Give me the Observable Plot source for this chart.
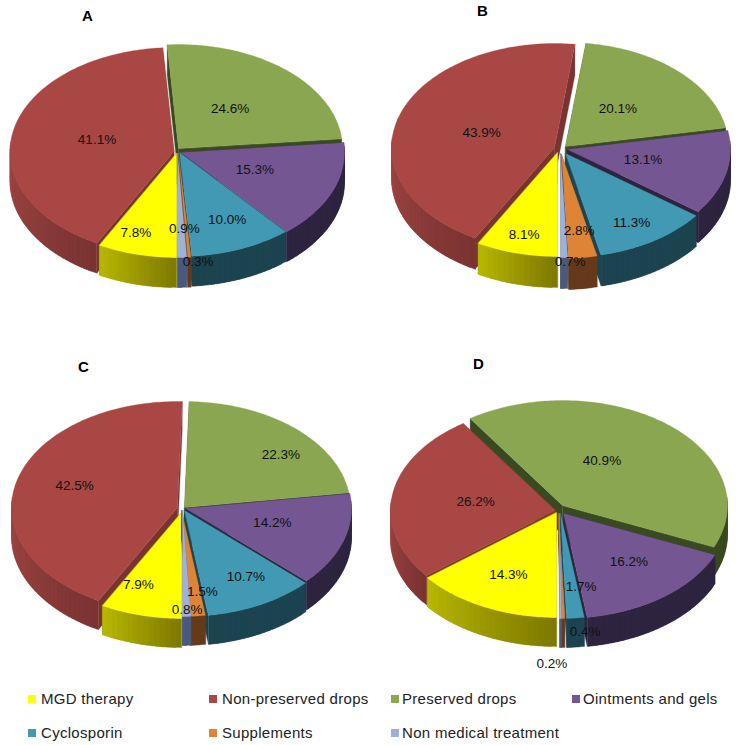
<!DOCTYPE html>
<html>
<head>
<meta charset="utf-8">
<script src="https://cdn.jsdelivr.net/npm/d3@7"></script>
<script src="https://cdn.jsdelivr.net/npm/@observablehq/plot@0.6"></script>
<style>
html,body{margin:0;padding:0;background:#fff;}
#legend{position:relative;height:65px;font:15px "Liberation Sans",Arial,sans-serif;letter-spacing:.3px;color:#222;}
#legend div{position:absolute;white-space:nowrap;line-height:16px;}
#legend i{position:absolute;width:8px;height:8px;top:4px;}
</style>
</head>
<body>
<div id="chart"></div>
<div id="legend"></div>
<script>
// Data, in the order the slices run clockwise from straight down
const categories = ["MGD therapy","Non-preserved drops","Preserved drops","Ointments and gels","Cyclosporin","Supplements","Non medical treatment"];
const panelNames = ["A","B","C","D"];
const valuesA = [7.8,41.1,24.6,15.3,10.0,0.3,0.9];
const valuesB = [8.1,43.9,20.1,13.1,11.3,2.8,0.7];
const valuesC = [7.9,42.5,22.3,14.2,10.7,1.5,0.8];
const valuesD = [14.3,26.2,40.9,16.2,1.7,0.4,0.2];

// Styles
const topColors = ["#ffff00","#a94745","#8aa650","#745693","#4199b3","#dd8436","#9fb1d6"];
const wallColors = [["#7d7800","#b8b800"],["#7a3331","#a04644"],["#3a4a20","#3a4a20"],["#2e2440","#2e2440"],["#1c4450","#1c4450"],["#653a1a","#653a1a"],["#4a5a7c","#4a5a7c"]];
const cutColors = ["#7d7800","#7a3331","#3a4a20","#2e2440","#1c4450","#653a1a","#4a5a7c"];

// Layout of each pie: radii, wall depth, title place, slice apex (exploded) and label placement
const layouts = [
 {values:valuesA, rx:164, ry:104, depth:30, title:[87,16],
  apex:[[176,153],[173.5,151],[178,148],[180,152],[179,152],[178,153],[177,153]],
  label:[[.80,4],[.484,2],[.497,-1],[.483,-2],[.706,-2],[1.045,-2.8],[.72,-1.7]]},
 {values:valuesB, rx:163, ry:104, depth:31, title:[482,11],
  apex:[[557,152],[554,147],[565,146],[567,149],[565,153],[561,154],[560,153]],
  label:[[.815,0],[.47,-.4],[.486,-2],[.473,-1.5],[.777,1.5],[.738,-.9],[1.04,-2]]},
 {values:valuesC, rx:166, ry:106, depth:29, title:[83,367],
  apex:[[181,512],[177,507],[184,507],[185,508],[184,510],[181,510],[182,510]],
  label:[[.727,6.7],[.654,3.6],[.764,7.6],[.54,-3],[.726,-3],[.775,-3.8],[.934,-.3]]},
 {values:valuesD, rx:165, ry:105, depth:29, title:[478,364],
  apex:[[556,512],[555,510],[562,505],[563,513],[560,513],[558,513],[559,513]],
  label:[[.658,.5],[.492,1.3],[.49,-10.4],[.607,-3.3],[.708,-5],[1.137,-6.7],[1.43,2.2]]}
];
const legendPlaces = [[41,699,28],[222,699,209],[402,699,391],[583,699,572],[41,733,28],[222,733,209],[402,733,391]];

const rad = d => d * Math.PI / 180;
const polys = [], labels = [], titles = [];
let polyId = 0;
function addPoly(pts, color){ const id = polyId++; for (const [x,y] of pts) polys.push({x,y,id,color}); }

layouts.forEach((L,pi) => {
  titles.push({x:L.title[0], y:L.title[1], text:panelNames[pi]});
  const total = d3.sum(L.values);
  let a = 180;
  const slices = L.values.map((v,i) => {
    const a0 = a, a1 = a + v/total*360; a = a1;
    return {i, v, a0, a1, mid:(a0+a1)/2};
  });
  const order = d3.sort(slices, s => -Math.cos(rad(s.mid)));
  for (const s of order) {
    const [cx,cy] = L.apex[s.i];
    const P = t => [cx + L.rx*Math.sin(rad(t)), cy - L.ry*Math.cos(rad(t))];
    const down = ([x,y]) => [x, y + L.depth];
    // cut faces
    for (const t of [s.a0, s.a1]) {
      const e = P(t);
      addPoly([[cx,cy], e, down(e), down([cx,cy])], cutColors[s.i]);
    }
    // outer wall, facet by facet; each facet overlaps the next so no seam shows
    const steps = Math.max(1, Math.ceil((s.a1-s.a0)/2));
    const interp = d3.interpolateRgb(wallColors[s.i][0], wallColors[s.i][1]);
    const vis0 = Math.max(s.a0, 90), vis1 = Math.min(s.a1, 270);
    for (let k=0;k<steps;k++){
      const t0 = s.a0 + (s.a1-s.a0)*k/steps, t1 = s.a0 + (s.a1-s.a0)*(k+1)/steps;
      const tm = ((t0+t1)/2) % 360;
      if (tm < 85 || tm > 275) continue;
      const f = vis1 > vis0 ? Math.min(1,Math.max(0,(tm-vis0)/(vis1-vis0))) : 0.5;
      const p0 = P(t0), p1 = P(Math.min(t1+1.5, s.a1));
      addPoly([p0,p1,down(p1),down(p0)], interp(f));
    }
    // top face
    const top = [[cx,cy]];
    const n = Math.max(2, Math.ceil(s.a1-s.a0));
    for (let k=0;k<=n;k++) top.push(P(s.a0 + (s.a1-s.a0)*k/n));
    addPoly(top, topColors[s.i]);
    // label
    const [f,dA] = L.label[s.i];
    const q = s.mid + dA;
    labels.push({x:cx + f*L.rx*Math.sin(rad(q)), y:cy - f*L.ry*Math.cos(rad(q)), text:s.v.toFixed(1)+"%"});
  }
});

const chart = Plot.plot({
  width:739, height:680, margin:0,
  x:{domain:[0,739], range:[0,739], axis:null},
  y:{domain:[0,680], range:[0,680], axis:null},
  color:{type:"identity"},
  marks:[
    Plot.line(polys,{x:"x",y:"y",z:"id",fill:"color",stroke:"color",strokeWidth:.3,curve:"linear-closed"}),
    Plot.text(labels,{x:"x",y:"y",text:"text",fontSize:13.5,fill:"#111",fontFamily:"Liberation Sans, Arial, sans-serif"}),
    Plot.text(titles,{x:"x",y:"y",text:"text",fontSize:15,fontWeight:"bold",fill:"#000",fontFamily:"Liberation Sans, Arial, sans-serif"})
  ]
});
document.getElementById("chart").appendChild(chart);

const legend = document.getElementById("legend");
categories.forEach((c,i) => {
  const [tx,ty,sx] = legendPlaces[i];
  const d = document.createElement("div");
  d.style.left = tx+"px";
  d.style.top = (ty-680-8)+"px";
  d.textContent = c;
  const sw = document.createElement("i");
  sw.style.background = topColors[i];
  sw.style.left = (sx-tx)+"px";
  d.appendChild(sw);
  legend.appendChild(d);
});
</script>
</body>
</html>
